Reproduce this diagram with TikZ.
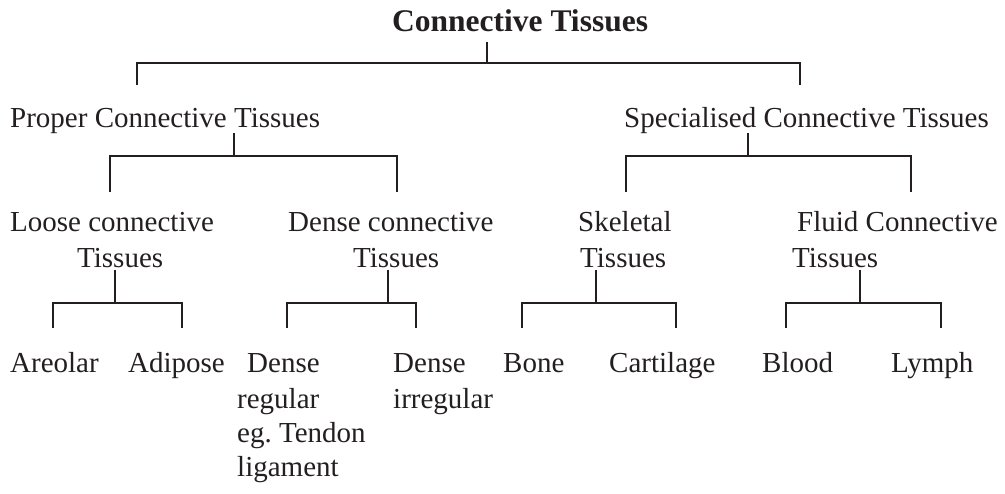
\documentclass[tikz,border=0pt]{standalone}
\usepackage{fontspec}
\setmainfont{Liberation Serif}
\definecolor{ink}{HTML}{231F20}
\begin{document}
\begin{tikzpicture}[x=1pt,y=-1pt,
  lbl/.style={anchor=base west, inner sep=0pt, font=\fontsize{29}{34}\selectfont, text=ink},
  ttl/.style={anchor=base west, inner sep=0pt, font=\fontsize{31.5}{36}\selectfont\bfseries, text=ink},
  ln/.style={line width=2.6pt, draw=ink, line join=miter}]
\useasboundingbox (0,0) rectangle (1005,494);
% texts
\node[ttl] (title) at (392,32) {Connective Tissues};
\node[lbl] (proper) at (10,128) {Proper Connective Tissues};
\node[lbl] (spec) at (624,128) {Specialised Connective Tissues};
\node[lbl] (loose1) at (10,232) {Loose connective};
\node[lbl] (loose2) at (77,268) {Tissues};
\node[lbl] (dense1) at (288,232) {Dense connective};
\node[lbl] (dense2) at (353,268) {Tissues};
\node[lbl] (skel1) at (578,232) {Skeletal};
\node[lbl] (skel2) at (580,268) {Tissues};
\node[lbl] (fluid1) at (797,232) {Fluid Connective};
\node[lbl] (fluid2) at (792,268) {Tissues};
\node[lbl] (areolar) at (10,373) {Areolar};
\node[lbl] (adipose) at (128,373) {Adipose};
\node[lbl] (dr1) at (247,373) {Dense};
\node[lbl] (dr2) at (237,409) {regular};
\node[lbl] (dr3) at (237,443) {eg.\ Tendon};
\node[lbl] (dr4) at (237,476) {ligament};
\node[lbl] (di1) at (393,373) {Dense};
\node[lbl] (di2) at (393,409) {irregular};
\node[lbl] (bone) at (503,373) {Bone};
\node[lbl] (cart) at (609,373) {Cartilage};
\node[lbl] (blood) at (762,373) {Blood};
\node[lbl] (lymph) at (891,373) {Lymph};
% brackets: stem top, junction, left end, right end
\coordinate (t0) at (487,42);  \coordinate (tj) at (487,63);
\coordinate (tl) at (137,85);  \coordinate (tr) at (800,85);
\draw[ln] (t0) -- (tj);
\draw[ln] (tl) -- (tl |- tj) -- (tr |- tj) -- (tr);

\coordinate (p0) at (234,133); \coordinate (pj) at (234,156);
\coordinate (pl) at (110,192); \coordinate (pr) at (397,192);
\draw[ln] (p0) -- (pj);
\draw[ln] (pl) -- (pl |- pj) -- (pr |- pj) -- (pr);

\coordinate (s0) at (748,133); \coordinate (sj) at (748,156);
\coordinate (sl) at (626,192); \coordinate (sr) at (911,192);
\draw[ln] (s0) -- (sj);
\draw[ln] (sl) -- (sl |- sj) -- (sr |- sj) -- (sr);

\coordinate (l0) at (115,270); \coordinate (lj) at (115,303);
\coordinate (ll) at (53,328);  \coordinate (lr) at (182,328);
\draw[ln] (l0) -- (lj);
\draw[ln] (ll) -- (ll |- lj) -- (lr |- lj) -- (lr);

\coordinate (d0) at (388,270); \coordinate (dj) at (388,303);
\coordinate (dl) at (287,328); \coordinate (dr) at (416,328);
\draw[ln] (d0) -- (dj);
\draw[ln] (dl) -- (dl |- dj) -- (dr |- dj) -- (dr);

\coordinate (k0) at (596,270); \coordinate (kj) at (596,303);
\coordinate (kl) at (522,328); \coordinate (kr) at (676,328);
\draw[ln] (k0) -- (kj);
\draw[ln] (kl) -- (kl |- kj) -- (kr |- kj) -- (kr);

\coordinate (f0) at (860,270); \coordinate (fj) at (860,303);
\coordinate (fl) at (786,328); \coordinate (fr) at (941,328);
\draw[ln] (f0) -- (fj);
\draw[ln] (fl) -- (fl |- fj) -- (fr |- fj) -- (fr);
\end{tikzpicture}
\end{document}
